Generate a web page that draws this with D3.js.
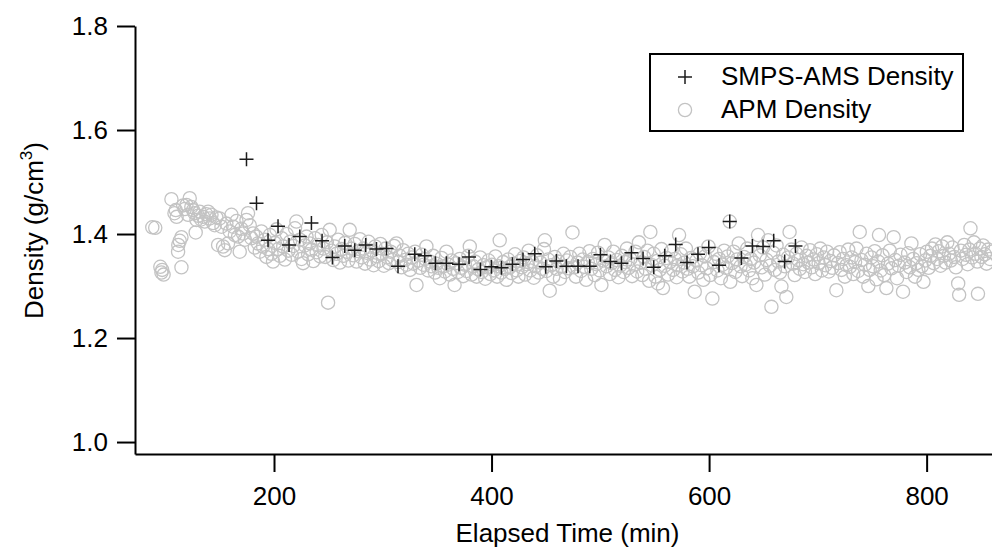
<!DOCTYPE html>
<html>
<head>
<meta charset="utf-8">
<script src="https://cdn.jsdelivr.net/npm/d3@7"></script>
<style>
  html, body { margin: 0; padding: 0; background: #fff; }
  svg { display: block; }
  text { font-family: "Liberation Sans", Arial, Helvetica, sans-serif; fill: #000; }
</style>
</head>
<body>
<svg id="chart" width="992" height="552"></svg>
<script>
// ---------------- data ----------------
const xTicks = [200, 400, 600, 800];
const yTicks = [1.0, 1.2, 1.4, 1.6, 1.8];
const xLabel = "Elapsed Time (min)";
const yLabel = "Density (g/cm";
const seriesNames = ["SMPS-AMS Density", "APM Density"];

const smpsTime = [174.7,183.9,194.5,203.7,213.8,223.7,234.4,244.2,253.7,265.0,274.2,284.3,294.2,303.4,314.0,329.4,338.6,348.4,358.5,370.1,379.3,389.8,399.9,409.1,419.2,428.9,439.7,449.8,459.6,468.8,479.5,490.3,500.1,509.3,519.4,528.6,539.3,549.1,559.2,569.3,579.7,589.8,599.7,609.1,619.0,629.7,639.8,649.6,659.4,669.5,679.4];
const smpsDensity = [1.544,1.459,1.388,1.415,1.379,1.395,1.421,1.387,1.355,1.377,1.369,1.379,1.371,1.372,1.338,1.361,1.358,1.344,1.344,1.342,1.356,1.332,1.337,1.335,1.342,1.351,1.362,1.337,1.348,1.338,1.338,1.338,1.360,1.347,1.344,1.364,1.353,1.336,1.358,1.380,1.345,1.361,1.374,1.340,1.424,1.354,1.377,1.376,1.387,1.347,1.377];

const apm = [[88.1,1.413],[90.8,1.412],[95.5,1.337],[96.5,1.326],[97.2,1.331],[98.5,1.322],[105.7,1.467],[108.5,1.44],[109.7,1.446],[110.5,1.433],[111.8,1.366],[112,1.379],[113.3,1.387],[114.9,1.394],[114.9,1.336],[116.5,1.455],[118,1.448],[119.5,1.456],[121,1.437],[122.5,1.469],[124,1.452],[125.6,1.446],[127,1.44],[128,1.403],[128.7,1.427],[130.2,1.435],[131.7,1.443],[133,1.428],[134.8,1.433],[136.3,1.424],[137.8,1.438],[139.4,1.443],[141,1.43],[142.5,1.437],[144,1.421],[145.5,1.417],[147,1.432],[148.6,1.379],[150,1.43],[151.7,1.414],[153.2,1.376],[154.7,1.369],[156.2,1.42],[157.7,1.382],[159.3,1.405],[160.9,1.437],[162.4,1.414],[164,1.398],[165.5,1.425],[167,1.395],[168.5,1.366],[170,1.41],[171.5,1.401],[173.2,1.389],[174.7,1.427],[176.1,1.44],[177.7,1.417],[179.2,1.392],[180.7,1.401],[182.3,1.374],[183.8,1.395],[185.3,1.382],[186.9,1.366],[188.4,1.405],[190,1.376],[191.5,1.389],[193,1.356],[194.6,1.371],[196.2,1.398],[197.7,1.362],[199.1,1.347],[200.7,1.383],[202.3,1.409],[203.8,1.371],[205.4,1.358],[207,1.392],[208.5,1.376],[210,1.351],[211.6,1.4],[213.2,1.368],[214.7,1.385],[216.3,1.36],[217.8,1.377],[219.3,1.411],[220.6,1.424],[222.2,1.366],[223.8,1.389],[225.3,1.352],[226.7,1.344],[228.3,1.378],[229.9,1.395],[231.4,1.361],[233,1.382],[234.6,1.37],[236.1,1.348],[237.7,1.392],[239.2,1.365],[240.8,1.379],[242.4,1.357],[243.9,1.398],[245.5,1.372],[247,1.356],[248.6,1.384],[249.7,1.268],[251.2,1.408],[252.8,1.368],[254.4,1.35],[255.9,1.376],[257.5,1.362],[259,1.389],[260.6,1.345],[262.2,1.371],[263.8,1.358],[265.3,1.383],[266.9,1.366],[268.4,1.349],[269.6,1.408],[271.2,1.372],[272.8,1.359],[274.3,1.381],[275.9,1.347],[277.5,1.367],[279,1.39],[280.6,1.355],[282.2,1.372],[283.7,1.343],[285.3,1.364],[286.9,1.385],[288.4,1.351],[290,1.368],[291.6,1.34],[293.1,1.376],[294.7,1.357],[296.3,1.348],[297.8,1.381],[299.4,1.362],[301,1.339],[302.5,1.372],[304.1,1.355],[305.7,1.344],[307.2,1.366],[308.8,1.35],[310.4,1.377],[312.6,1.382],[314,1.346],[315.6,1.358],[317.2,1.336],[318.7,1.369],[320.3,1.35],[321.9,1.341],[323.4,1.362],[325,1.331],[326.6,1.355],[328.1,1.343],[329.7,1.366],[331,1.302],[332.8,1.349],[334.4,1.335],[336,1.36],[337.5,1.341],[339.1,1.352],[340.1,1.376],[341.7,1.33],[343.3,1.347],[344.8,1.338],[346.4,1.358],[348,1.326],[349.5,1.343],[351.1,1.335],[352.4,1.315],[354,1.354],[355.6,1.338],[357,1.328],[358.5,1.366],[360.1,1.341],[361.7,1.322],[363.2,1.349],[364.8,1.333],[366,1.302],[367.6,1.344],[369.2,1.327],[370.8,1.352],[372.3,1.335],[373.9,1.319],[375.5,1.341],[377,1.329],[378.6,1.358],[380,1.376],[381.6,1.322],[383.2,1.338],[384.8,1.347],[386.3,1.318],[387.9,1.332],[389.5,1.355],[391,1.327],[392.6,1.34],[394.2,1.314],[395.7,1.336],[397.3,1.349],[398.9,1.323],[400.4,1.341],[402,1.33],[403.6,1.357],[405.1,1.318],[406.7,1.338],[407.5,1.388],[409,1.326],[410.6,1.346],[412.2,1.333],[413.7,1.312],[415.3,1.351],[416.9,1.337],[418.4,1.325],[420,1.343],[421.6,1.361],[423.1,1.33],[424.7,1.318],[426.3,1.348],[427.8,1.336],[429.4,1.355],[431,1.322],[432.5,1.342],[434.1,1.368],[435.7,1.33],[437.2,1.347],[438.8,1.316],[440.4,1.338],[441.9,1.359],[443.5,1.326],[445.1,1.345],[446.6,1.333],[448.2,1.371],[449,1.388],[450.5,1.329],[452,1.351],[453.5,1.291],[455.1,1.34],[456.7,1.318],[458.2,1.356],[459.8,1.333],[461.4,1.347],[462.9,1.314],[464.5,1.338],[466.1,1.362],[467.6,1.327],[469.2,1.349],[470.8,1.334],[472.3,1.356],[474.4,1.403],[476,1.336],[477.6,1.318],[479.1,1.345],[480.7,1.362],[482.3,1.329],[483.8,1.351],[485.4,1.337],[487,1.312],[488.5,1.346],[490.1,1.367],[491.7,1.333],[493.2,1.352],[494.8,1.321],[496.4,1.342],[497.9,1.364],[499.5,1.33],[501,1.302],[502.6,1.349],[504,1.379],[505.7,1.338],[507.3,1.355],[508.8,1.323],[510.4,1.344],[512,1.366],[513.5,1.331],[515.1,1.35],[516.7,1.317],[518.2,1.339],[519.8,1.358],[521.4,1.327],[522.9,1.346],[524.5,1.372],[526.1,1.335],[527.6,1.352],[529.2,1.319],[530.8,1.341],[532.3,1.366],[533.9,1.328],[535.5,1.384],[537,1.345],[538.6,1.321],[540.2,1.356],[541.7,1.333],[543.3,1.368],[544.9,1.31],[546,1.404],[547.6,1.34],[549.1,1.362],[550.7,1.318],[552.3,1.348],[553,1.305],[554.6,1.331],[556.2,1.371],[557.6,1.296],[559.2,1.339],[560.8,1.354],[562.3,1.322],[563.9,1.346],[565.5,1.368],[567,1.331],[568.6,1.352],[570.2,1.317],[571.7,1.34],[572.4,1.398],[574,1.361],[575.6,1.328],[577.1,1.345],[578.7,1.372],[580.3,1.333],[581.8,1.318],[583.4,1.354],[585,1.338],[586.8,1.289],[588.4,1.349],[590,1.326],[591.5,1.363],[593.1,1.34],[594.7,1.312],[596.2,1.357],[597.8,1.334],[599.4,1.376],[601,1.321],[603,1.276],[604.5,1.346],[606.1,1.362],[607.7,1.33],[609.2,1.352],[610.8,1.315],[612.4,1.341],[613.9,1.368],[615.5,1.335],[617.1,1.357],[619,1.424],[619.5,1.308],[621,1.344],[622.6,1.366],[624.2,1.327],[625.7,1.351],[627.3,1.382],[628.9,1.338],[630.4,1.319],[632,1.356],[633.6,1.341],[635.1,1.372],[636.7,1.33],[638.3,1.352],[639.8,1.315],[641.4,1.345],[643.5,1.302],[645,1.398],[646.6,1.359],[648.2,1.336],[649.7,1.374],[651.3,1.322],[652.9,1.35],[654.4,1.388],[656,1.339],[657.3,1.26],[658.9,1.364],[660.5,1.331],[662,1.378],[663.6,1.347],[665.2,1.326],[666.5,1.299],[668.1,1.36],[669.7,1.338],[671,1.279],[672.6,1.355],[674,1.404],[675.6,1.37],[677.2,1.343],[678.7,1.321],[680.3,1.362],[681.9,1.35],[683.4,1.333],[685,1.374],[686.6,1.342],[688.1,1.327],[689.7,1.358],[691.3,1.345],[692.8,1.369],[694.4,1.336],[696,1.351],[697.5,1.323],[699.1,1.361],[700.7,1.344],[702.2,1.372],[703.8,1.33],[705.4,1.355],[706.9,1.34],[708.5,1.366],[710.1,1.328],[711.6,1.348],[713.2,1.335],[714.8,1.359],[717,1.292],[718.5,1.344],[720.1,1.365],[721.7,1.331],[723.2,1.352],[724.8,1.318],[726.4,1.34],[727.9,1.37],[729.5,1.337],[731.1,1.355],[732.6,1.323],[734.2,1.346],[735.5,1.372],[737.1,1.329],[738.5,1.404],[740.1,1.35],[741.7,1.318],[743.2,1.341],[744.8,1.362],[746.4,1.3],[747.6,1.331],[749.2,1.355],[750.8,1.338],[752.3,1.367],[753.9,1.313],[755.5,1.347],[756.2,1.398],[757.8,1.33],[759.4,1.359],[761,1.321],[763,1.296],[764.5,1.343],[766.1,1.368],[767.7,1.334],[769.7,1.394],[771.2,1.35],[772.8,1.315],[774.4,1.339],[776,1.36],[778.3,1.289],[779.9,1.345],[781.5,1.327],[783,1.363],[784.6,1.336],[786,1.382],[787.7,1.352],[789.3,1.318],[790.8,1.344],[792.4,1.331],[794,1.361],[795.5,1.338],[797.1,1.308],[798.7,1.349],[800.2,1.366],[801.8,1.335],[803.4,1.358],[804.9,1.372],[806.5,1.344],[808.1,1.38],[809.6,1.352],[811.2,1.367],[812.8,1.339],[814.3,1.376],[815.9,1.358],[817.5,1.345],[819,1.384],[820.6,1.362],[822.2,1.349],[823.7,1.374],[825.3,1.356],[826.9,1.336],[829,1.305],[829.9,1.283],[831.5,1.368],[833,1.352],[834.6,1.379],[836.2,1.36],[837.7,1.342],[839.3,1.37],[840.3,1.411],[841.9,1.355],[843.5,1.384],[845,1.362],[846.6,1.347],[847.2,1.285],[848.8,1.372],[850.4,1.356],[851.9,1.378],[853.5,1.361],[855.1,1.343],[856.6,1.37],[858.2,1.352],[859.8,1.366]];

// ---------------- layout ----------------
const W = 992, H = 552;
const margin = { left: 135, right: 0, top: 26, bottom: 98 };
const xDomain = [72.2, 860.1];
const yDomain = [0.977, 1.8];

const svg = d3.select("#chart");
const x = d3.scaleLinear().domain(xDomain).range([margin.left, W - margin.right]);
const y = d3.scaleLinear().domain(yDomain).range([H - margin.bottom, margin.top]);

const clipId = "plotclip";
svg.append("defs").append("clipPath").attr("id", clipId)
  .append("rect")
  .attr("x", margin.left).attr("y", margin.top - 10)
  .attr("width", W - margin.left).attr("height", H - margin.bottom - margin.top + 10);

const plot = svg.append("g").attr("clip-path", `url(#${clipId})`);

// APM circles
plot.append("g").selectAll("circle").data(apm).join("circle")
  .attr("cx", d => x(d[0])).attr("cy", d => y(d[1]))
  .attr("r", 6.6)
  .attr("fill", "none")
  .attr("stroke", "#c3c3c3")
  .attr("stroke-width", 1.3);

// SMPS-AMS pluses
const plusPath = "M-7,0H7M0,-7V7";
plot.append("g").selectAll("path").data(smpsTime.map((t, i) => [t, smpsDensity[i]])).join("path")
  .attr("d", plusPath)
  .attr("transform", d => `translate(${x(d[0])},${y(d[1])})`)
  .attr("fill", "none")
  .attr("stroke", "#1c1c1c")
  .attr("stroke-width", 1.5);

// axes
const yAxis = d3.axisLeft(y).tickValues(yTicks).tickFormat(d3.format(".1f"))
  .tickSize(18).tickSizeOuter(0).tickPadding(9);
const xAxis = d3.axisBottom(x).tickValues(xTicks).tickFormat(d3.format("d"))
  .tickSize(18).tickSizeOuter(0).tickPadding(15);

const gy = svg.append("g").attr("transform", `translate(${margin.left},0)`).call(yAxis);
const gx = svg.append("g").attr("transform", `translate(0,${H - margin.bottom})`).call(xAxis);

[gx, gy].forEach(g => {
  g.select(".domain").attr("stroke", "#000").attr("stroke-width", 2);
  g.selectAll(".tick line").attr("stroke", "#000").attr("stroke-width", 2);
  g.selectAll(".tick text").attr("font-size", 26)
    .attr("font-family", '"Liberation Sans", Arial, Helvetica, sans-serif').attr("fill", "#000");
});

// axis titles
svg.append("text")
  .attr("x", (margin.left + W) / 2 + 4)
  .attr("y", 542)
  .attr("text-anchor", "middle")
  .attr("font-size", 26)
  .text(xLabel);

const yt = svg.append("text")
  .attr("transform", "translate(43,142) rotate(-90)")
  .attr("text-anchor", "end")
  .attr("font-size", 26);
yt.append("tspan").text(yLabel);
yt.append("tspan").attr("font-size", 17).attr("dy", -11).text("3");
yt.append("tspan").attr("dy", 11).text(")");

// legend
const lg = svg.append("g");
lg.append("rect").attr("x", 650).attr("y", 54).attr("width", 313).attr("height", 77)
  .attr("fill", "#fff").attr("stroke", "#000").attr("stroke-width", 2);
lg.append("path").attr("d", plusPath).attr("transform", "translate(685,77)")
  .attr("stroke", "#1c1c1c").attr("stroke-width", 1.5).attr("fill", "none");
lg.append("circle").attr("cx", 685).attr("cy", 110).attr("r", 6.6)
  .attr("fill", "none").attr("stroke", "#c3c3c3").attr("stroke-width", 1.3);
lg.append("text").attr("x", 721).attr("y", 85).attr("font-size", 26).text(seriesNames[0]);
lg.append("text").attr("x", 721).attr("y", 118).attr("font-size", 26).text(seriesNames[1]);
</script>
</body>
</html>
